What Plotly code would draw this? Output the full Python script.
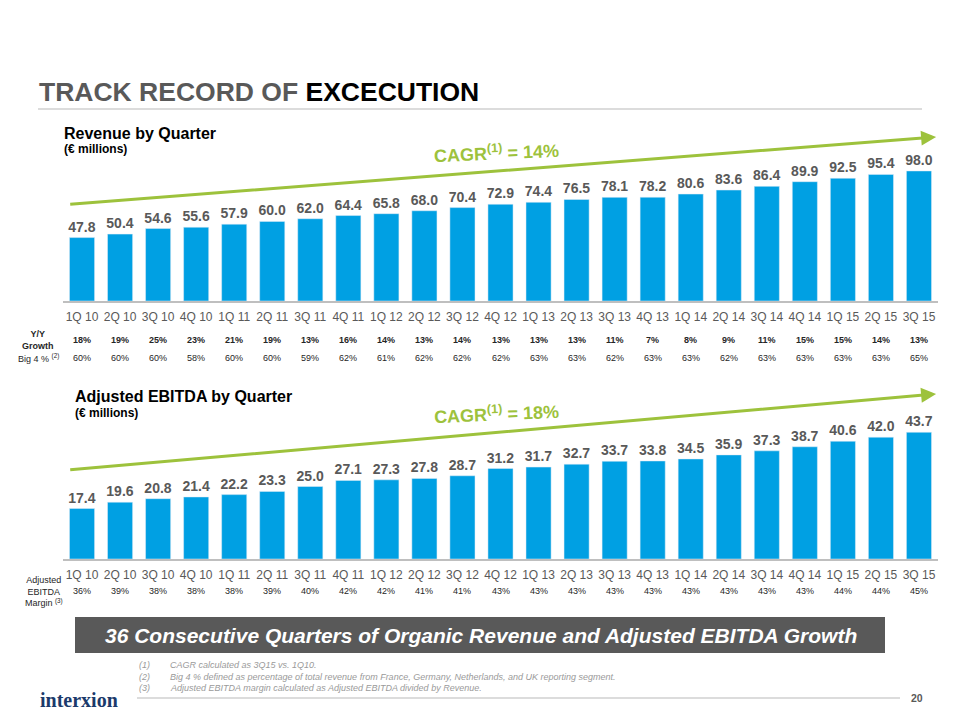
import plotly.graph_objects as go

# data
quarters = ["1Q 10", "2Q 10", "3Q 10", "4Q 10", "1Q 11", "2Q 11", "3Q 11", "4Q 11",
            "1Q 12", "2Q 12", "3Q 12", "4Q 12", "1Q 13", "2Q 13", "3Q 13", "4Q 13",
            "1Q 14", "2Q 14", "3Q 14", "4Q 14", "1Q 15", "2Q 15", "3Q 15"]
revenue = [47.8, 50.4, 54.6, 55.6, 57.9, 60.0, 62.0, 64.4, 65.8, 68.0, 70.4, 72.9,
           74.4, 76.5, 78.1, 78.2, 80.6, 83.6, 86.4, 89.9, 92.5, 95.4, 98.0]
ebitda = [17.4, 19.6, 20.8, 21.4, 22.2, 23.3, 25.0, 27.1, 27.3, 27.8, 28.7, 31.2,
          31.7, 32.7, 33.7, 33.8, 34.5, 35.9, 37.3, 38.7, 40.6, 42.0, 43.7]
yoy_growth = ["18%", "19%", "25%", "23%", "21%", "19%", "13%", "16%", "14%", "13%", "14%", "13%",
              "13%", "13%", "11%", "7%", "8%", "9%", "11%", "15%", "15%", "14%", "13%"]
big4 = ["60%", "60%", "60%", "58%", "60%", "60%", "59%", "62%", "61%", "62%", "62%", "62%",
        "63%", "63%", "62%", "63%", "63%", "62%", "63%", "63%", "63%", "63%", "65%"]
ebitda_margin = ["36%", "39%", "38%", "38%", "38%", "39%", "40%", "42%", "42%", "41%", "41%", "43%",
                 "43%", "43%", "43%", "43%", "43%", "43%", "43%", "43%", "44%", "44%", "45%"]

# trend arrows (start / end value in chart units)
rev_trend = [72.8, 123.6]
ebitda_trend = [30.7, 56.9]

BLUE = "#00A0E3"
GREEN = "#9DC23C"
GRAY = "#595959"
DARK = "#262626"
FONT = "Arial, Liberation Sans, sans-serif"

# the page body adds an 8px margin around the figure
OFF = 8


def px(x):
    return (x - OFF) / 960


def py(y):
    return 1 - (y - OFF) / 720


def label(x, y, text, size, color, xanchor="center", **kw):
    return dict(x=px(x), y=py(y), xref="paper", yref="paper", xanchor=xanchor, yanchor="middle",
                showarrow=False, text=text, font=dict(size=size, color=color, **kw))


fig = go.Figure()

for yv, xa, ya in [(revenue, "x", "y"), (ebitda, "x2", "y2")]:
    fig.add_trace(go.Bar(x=quarters, y=yv, marker_color=BLUE, texttemplate="%{y:.1f}",
                         textposition="outside", cliponaxis=False, constraintext="none",
                         textfont=dict(size=14, color=GRAY, family=FONT, weight="bold"),
                         xaxis=xa, yaxis=ya))

xax = dict(domain=[px(63), px(938)], type="category", range=[-0.5, 22.5], autorange=False,
           showline=True, linecolor="#BFBFBF", linewidth=2, ticks="outside", ticklen=4,
           tickcolor="rgba(0,0,0,0)", tickfont=dict(size=12, color=GRAY, family=FONT),
           showgrid=False, fixedrange=True)

fig.update_layout(
    width=960, height=720, margin=dict(l=0, r=0, t=0, b=0),
    paper_bgcolor="white", plot_bgcolor="white", showlegend=False, bargap=0.34,
    font=dict(family=FONT),
    xaxis=dict(xax, anchor="y"),
    yaxis=dict(domain=[py(301), py(130)], range=[0, (301 - 130) / 1.327], autorange=False,
               visible=False, fixedrange=True),
    xaxis2=dict(xax, anchor="y2"),
    yaxis2=dict(domain=[py(559), py(390)], range=[0, (559 - 390) / 2.9], autorange=False,
                visible=False, fixedrange=True),
)

ann = []

# trend arrows
for xr, yr, tr in [("x", "y", rev_trend), ("x2", "y2", ebitda_trend)]:
    ann.append(dict(x=22.45, y=tr[1], ax=-0.35, ay=tr[0], xref=xr, yref=yr, axref=xr, ayref=yr,
                    text="", showarrow=True, arrowhead=2, arrowsize=1, arrowwidth=3,
                    arrowcolor=GREEN, standoff=0))

for yy, t in [(153, "14%"), (413, "18%")]:
    a = label(496, yy, "<b>CAGR<sup>(1)</sup> = %s</b>" % t, 18, GREEN)
    a["textangle"] = -2.5
    ann.append(a)

# title
ann.append(label(37, 92, "<b>TRACK RECORD OF <span style='color:#000000'>EXCECUTION</span></b>",
                 26.5, GRAY, xanchor="left"))

# chart titles
for x0, y0, t in [(62, 133, "Revenue by Quarter"), (73, 396, "Adjusted EBITDA by Quarter")]:
    ann.append(label(x0, y0, "<b>%s</b>" % t, 16, "#000000", xanchor="left"))
    ann.append(label(x0, y0 + 16.5, "<b>(€ millions)</b>", 12, "#000000", xanchor="left"))

# percentage rows under the axes
for i, q in enumerate(quarters):
    for xr, yy, txt in [("x", 340, "<b>%s</b>" % yoy_growth[i]), ("x", 358, big4[i]),
                        ("x2", 591, ebitda_margin[i])]:
        ann.append(dict(x=q, xref=xr, y=py(yy), yref="paper", xanchor="center", yanchor="middle",
                        showarrow=False, text=txt, font=dict(size=9, color=DARK)))

ann.append(label(38, 340, "<b>Y/Y<br>Growth</b>", 9, DARK))
ann.append(label(38, 358, "Big 4 % <sup>(2)</sup>", 9, DARK))
ann.append(label(44, 591, "Adjusted<br>EBITDA<br>Margin <sup>(3)</sup>", 9, DARK))

# banner text
ann.append(label(481, 635.5,
                 "<b><i>36 Consecutive Quarters of Organic Revenue and Adjusted EBITDA Growth</i></b>",
                 21, "white"))

# footnotes
notes = ["CAGR calculated as 3Q15 vs. 1Q10.",
         "Big 4 % defined as percentage of total revenue from France, Germany, Netherlands, and UK reporting segment.",
         "Adjusted EBITDA margin calculated as Adjusted EBITDA divided by Revenue."]
for k, n in enumerate(notes):
    yy = 665 + k * 11.5
    ann.append(label(137, yy, "<i>(%d)</i>" % (k + 1), 9, "#9A9A9A", xanchor="left"))
    ann.append(label(168, yy, "<i>%s</i>" % n, 9, "#9A9A9A", xanchor="left"))

# logo and page number
ann.append(label(38, 700, "<b>interxion</b>", 20, "#1B3A6B", xanchor="left",
                 family="Liberation Serif, Times New Roman, serif"))
ann.append(label(909, 698, "<b>20</b>", 10.5, GRAY, xanchor="left"))

fig.update_layout(annotations=ann)

fig.update_layout(shapes=[
    dict(type="line", xref="paper", yref="paper", x0=px(38), x1=px(922), y0=py(109), y1=py(109),
         line=dict(color="#D0D0D0", width=1.5)),
    dict(type="rect", xref="paper", yref="paper", x0=px(75), x1=px(885), y0=py(653), y1=py(617),
         fillcolor=GRAY, line=dict(width=0)),
    dict(type="line", xref="paper", yref="paper", x0=px(137), x1=px(900), y0=py(698), y1=py(698),
         line=dict(color="#D0D0D0", width=1.5)),
])

fig.write_html("out.html")
